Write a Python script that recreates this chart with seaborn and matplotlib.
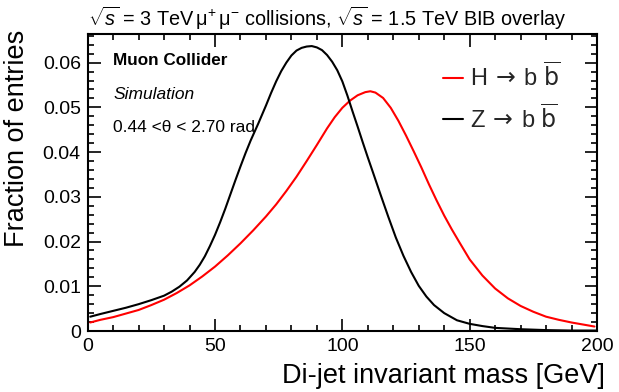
import numpy as np
import pandas as pd
import seaborn as sns
import matplotlib
matplotlib.use('Agg')
import matplotlib.pyplot as plt
from matplotlib.ticker import MultipleLocator
from matplotlib.font_manager import FontProperties

# data (di-jet mass in GeV, fraction of entries)
z_mass = [1, 5, 10, 15, 20, 25, 30, 33, 36, 39, 42, 44, 46, 48, 50, 52, 54, 56, 58,
          60, 62, 64, 67, 70, 72, 74, 76, 78, 80, 82, 84, 86, 88, 90, 92, 94, 96, 98,
          100, 102, 104, 106, 108, 110, 112, 115, 118, 121, 124, 127, 130, 133, 136,
          140, 145, 150, 155, 160, 170, 180, 190, 200]
z_frac = [0.0032, 0.0038, 0.0045, 0.0052, 0.0060, 0.0069, 0.0079, 0.0088, 0.0099,
          0.0113, 0.0132, 0.0148, 0.0167, 0.0190, 0.0215, 0.0243, 0.0273, 0.0305,
          0.0337, 0.0368, 0.0398, 0.0426, 0.0464, 0.0504, 0.0532, 0.0558, 0.0581,
          0.0600, 0.0616, 0.0627, 0.0633, 0.0636, 0.0637, 0.0634, 0.0628, 0.0617,
          0.0602, 0.0583, 0.0558, 0.0526, 0.0491, 0.0457, 0.0422, 0.0388, 0.0355,
          0.0305, 0.0256, 0.0209, 0.0168, 0.0132, 0.0101, 0.0077, 0.0058, 0.0040,
          0.0024, 0.0016, 0.0011, 0.0007, 0.0004, 0.0002, 0.0001, 0.0001]

h_mass = [1, 5, 10, 15, 20, 25, 30, 35, 40, 45, 50, 55, 60, 65, 70, 74, 78, 82, 86,
          90, 94, 97, 100, 103, 106, 109, 111, 113, 116, 119, 122, 125, 128, 131, 134,
          137, 140, 143, 146, 150, 155, 160, 165, 170, 175, 180, 185, 190, 195, 199]
h_frac = [0.0019, 0.0025, 0.0031, 0.0039, 0.0047, 0.0058, 0.0070, 0.0085, 0.0102,
          0.0122, 0.0144, 0.0169, 0.0196, 0.0225, 0.0256, 0.0283, 0.0313, 0.0345,
          0.0380, 0.0416, 0.0453, 0.0478, 0.0499, 0.0515, 0.0527, 0.0534, 0.0536,
          0.0533, 0.0521, 0.0499, 0.0470, 0.0437, 0.0402, 0.0366, 0.0328, 0.0292,
          0.0258, 0.0227, 0.0198, 0.0160, 0.0124, 0.0095, 0.0073, 0.0056, 0.0043,
          0.0032, 0.0025, 0.0019, 0.0014, 0.0010]

h_label = r'H$\,\rightarrow\,$b $\overline{\mathrm{b}}$'
z_label = r'Z$\,\rightarrow\,$b $\overline{\mathrm{b}}$'

# style (ROOT-like)
sns.set_theme(style='ticks')
plt.rcParams['font.family'] = ['Liberation Sans', 'DejaVu Sans']
plt.rcParams['mathtext.fontset'] = 'custom'
plt.rcParams['mathtext.rm'] = 'Liberation Sans'
plt.rcParams['mathtext.it'] = 'Liberation Sans:italic'
plt.rcParams['mathtext.bf'] = 'Liberation Sans:bold'

W, H = 619, 392
fig = plt.figure(figsize=(W / 100, H / 100), dpi=100)
ax = fig.add_axes([87.7 / W, 1 - 331 / H, (597 - 87.7) / W, (331 - 34) / H])

h_df = pd.DataFrame({'mass': h_mass, 'frac': h_frac})
z_df = pd.DataFrame({'mass': z_mass, 'frac': z_frac})
sns.lineplot(data=h_df, x='mass', y='frac', ax=ax, color='#ff0000', lw=1.5,
             label=h_label, sort=False)
sns.lineplot(data=z_df, x='mass', y='frac', ax=ax, color='black', lw=1.5,
             label=z_label, sort=False)

ax.set_xlim(0, 200)
ax.set_ylim(0, 0.0664)
ax.set_xlabel('')
ax.set_ylabel('')
ax.xaxis.set_major_locator(MultipleLocator(50))
ax.xaxis.set_minor_locator(MultipleLocator(10))
ax.yaxis.set_minor_locator(MultipleLocator(0.002))
ax.set_yticks([0, 0.01, 0.02, 0.03, 0.04, 0.05, 0.06])
ax.set_yticklabels(['0', '0.01', '0.02', '0.03', '0.04', '0.05', '0.06'])
ax.tick_params(which='both', direction='in', top=True, right=True, width=1.2,
               color='black', labelsize=14, labelcolor='black')
ax.tick_params(which='major', length=9, pad=5)
ax.tick_params(which='minor', length=4.5)
for s in ax.spines.values():
    s.set_linewidth(1.5)
    s.set_color('black')

leg_font = FontProperties(family='Liberation Sans', size=17,
                          math_fontfamily='dejavusans')
ax.legend(loc='upper left', bbox_to_anchor=(443 / W, 1 - 62 / H),
          bbox_transform=fig.transFigure, frameon=False, prop=leg_font,
          handlelength=0.85, handletextpad=0.3, labelspacing=0.55, borderpad=0,
          borderaxespad=0)

# annotations
fig.text(88 / W, 1 - 26 / H,
         r'$\sqrt{s}$ = 3 TeV$\,\mathregular{\mu^{+}\,\mu^{-}}$ collisions, '
         r'$\sqrt{s}$ = 1.5 TeV BIB overlay',
         fontsize=14.3, ha='left', va='baseline', color='black')
fig.text(113 / W, 1 - 65 / H, 'Muon Collider', fontsize=12.3, fontweight='bold',
         ha='left', va='baseline', color='black')
fig.text(113 / W, 1 - 99 / H, 'Simulation', fontsize=12.5, style='italic',
         ha='left', va='baseline', color='black')
fig.text(113 / W, 1 - 132 / H, '0.44 <\u03b8 < 2.70 rad', fontsize=12.5,
         ha='left', va='baseline', color='black')
fig.text(605 / W, 1 - 383 / H, 'Di-jet invariant mass [GeV]', fontsize=19.5,
         ha='right', va='baseline', color='black')
fig.text(17 / W, 1 - 30 / H, 'Fraction of entries', fontsize=19.5, rotation=90,
         ha='center', va='top', color='black')

fig.savefig('out.png', dpi=100)
